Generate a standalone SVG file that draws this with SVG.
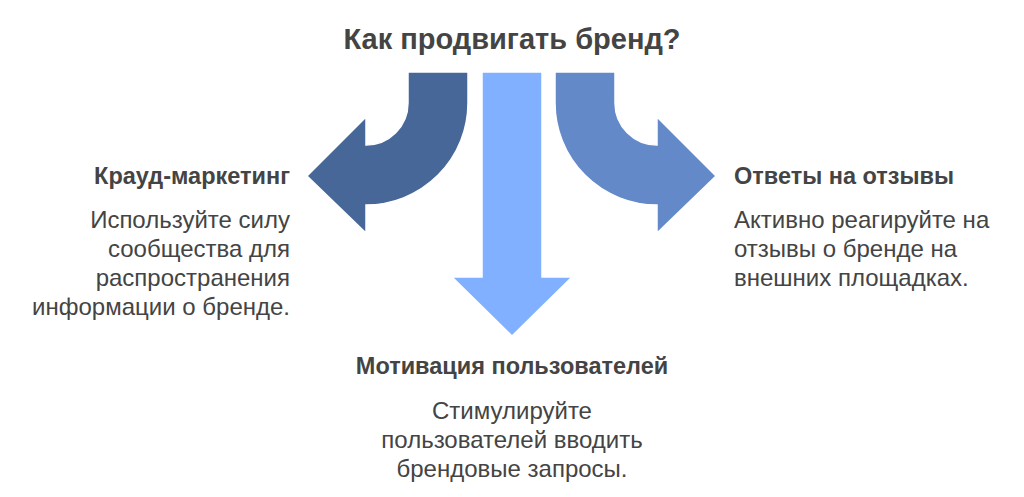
<svg xmlns="http://www.w3.org/2000/svg" width="1024" height="497" viewBox="0 0 1024 497">
<style>
text{font-family:"Liberation Sans",Arial,sans-serif;fill:#444}
.t{font-size:29px;font-weight:bold}
.h{font-size:23.5px;font-weight:bold}
.b{font-size:24px}
.ar{stroke:#fff;stroke-width:1.5}
</style>
<rect width="1024" height="497" fill="#fff"/>
<text class="t" x="512" y="49" text-anchor="middle">Как продвигать бренд?</text>
<g id="connectors">
<path class="ar" fill="#476798" d="M408,72 H468 V103 A102,102 0 0 1 366,205 V233 L307,176 L366,117 V145 A42,42 0 0 0 408,103 Z"/>
<path class="ar" fill="#80B0FF" d="M482,72 H542 V277 H572 L512,336 L452,277 H482 Z"/>
<path class="ar" fill="#6389C8" d="M555,72 H615 V103 A42,42 0 0 0 657,145 V117 L716,176 L657,233 V205 A102,102 0 0 1 555,103 Z"/>
</g>
<g id="crowd">
<text class="h" x="290" y="184" text-anchor="end">Крауд-маркетинг</text>
<text class="b" text-anchor="end"><tspan x="290" y="228">Используйте силу</tspan><tspan x="290" y="257">сообщества для</tspan><tspan x="290" y="286">распространения</tspan><tspan x="290" y="315">информации о бренде.</tspan></text>
</g>
<g id="reviews">
<text class="h" x="734" y="184">Ответы на отзывы</text>
<text class="b"><tspan x="734" y="228">Активно реагируйте на</tspan><tspan x="734" y="257">отзывы о бренде на</tspan><tspan x="734" y="286">внешних площадках.</tspan></text>
</g>
<g id="motivation">
<text class="h" x="512" y="374" text-anchor="middle">Мотивация пользователей</text>
<text class="b" text-anchor="middle"><tspan x="512" y="419">Стимулируйте</tspan><tspan x="512" y="448">пользователей вводить</tspan><tspan x="512" y="477">брендовые запросы.</tspan></text>
</g>
</svg>
